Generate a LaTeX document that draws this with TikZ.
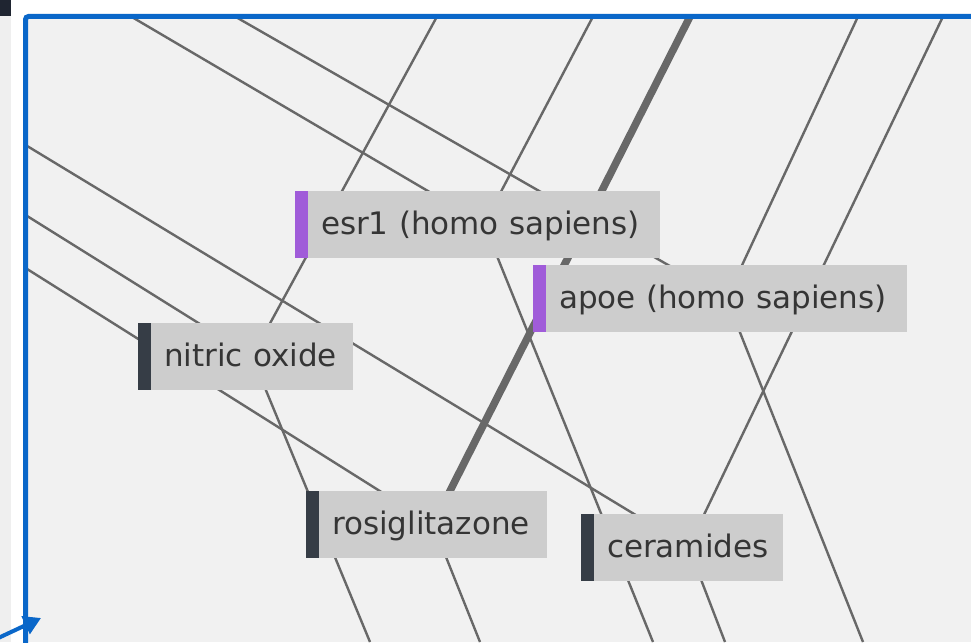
\documentclass[tikz,border=0pt]{standalone}
\usepackage{fontspec}
\setmainfont{DejaVu Sans}
\usetikzlibrary{arrows.meta,positioning,backgrounds}
\definecolor{netBlue}{HTML}{0A67C9}
\definecolor{netCanvas}{HTML}{F1F1F1}
\definecolor{netStrip}{HTML}{EFEFEF}
\definecolor{netDark}{HTML}{1F2531}
\definecolor{netBox}{HTML}{CDCDCD}
\definecolor{netText}{HTML}{353535}
\definecolor{netPurple}{HTML}{A05CD9}
\definecolor{netSlate}{HTML}{363D46}
\definecolor{netLine}{HTML}{686868}
\tikzset{
  termbox/.style={rectangle, fill=netBox, anchor=west, inner xsep=13pt, inner ysep=0pt, minimum height=67pt, text height=26pt, text depth=6pt, text width=#1, align=left, text=netText, font=\fontsize{31}{37}\selectfont},
  geneTag/.style={rectangle, fill=netPurple, minimum width=13pt, minimum height=67pt, inner sep=0pt},
  chemTag/.style={rectangle, fill=netSlate, minimum width=13pt, minimum height=67pt, inner sep=0pt},
  link/.style={draw=netLine, line width=2.4pt},
  heavylink/.style={draw=netLine, line width=7.5pt},
  viewframe/.style={draw=netBlue, line width=5pt, rounded corners=3pt},
  pointer/.style={draw=netBlue, line width=4pt, -{Triangle[length=17pt,width=19pt]}}
}

\begin{document}
\begin{tikzpicture}[x=1pt,y=-1pt,every node/.style={outer sep=0pt}]
\useasboundingbox (0,0) rectangle (971,642);

% page strip on the left
\fill[netStrip] (0,16) rectangle (11,642);
\fill[netDark] (0,0) rectangle (11,16);

% terms
\node[termbox=326pt] (esr) at (308,224) {esr1 (homo sapiens)};
\node[geneTag, left=0pt of esr] (esrTag) {};
\node[termbox=335pt] (apoe) at (546,298.5) {apoe (homo sapiens)};
\node[geneTag, left=0pt of apoe] (apoeTag) {};
\node[termbox=176pt] (nitric) at (151,356.5) {nitric oxide};
\node[chemTag, left=0pt of nitric] (nitricTag) {};
\node[termbox=202pt] (rosi) at (319,524.5) {rosiglitazone};
\node[chemTag, left=0pt of rosi] (rosiTag) {};
\node[termbox=163pt] (cer) at (594,547) {ceramides};
\node[chemTag, left=0pt of cer] (cerTag) {};

% loose ends of links that run out of view
\coordinate (tEsrA) at (131,16.5);
\coordinate (tApoeA) at (235,16.5);
\coordinate (tNitric) at (437,16.5);
\coordinate (tEsrB) at (593,16.5);
\coordinate (tRosi) at (690,16.5);
\coordinate (tApoeB) at (858,16.5);
\coordinate (tCer) at (943,16.5);
\coordinate (lCer) at (25.5,145);
\coordinate (lNitric) at (25.5,215);
\coordinate (lRosi) at (25.5,268);
\coordinate (bNitric) at (370,642);
\coordinate (bRosi) at (480,642);
\coordinate (bEsr) at (653,642);
\coordinate (bCer) at (725,642);
\coordinate (bApoe) at (863,642);

\begin{scope}[on background layer]
\fill[netCanvas] (28,19) rectangle (971,642);
\clip (28,19) rectangle (971,642);
\draw[link] (tEsrA) -- (esr.center);
\draw[link] (tEsrB) -- (esr.center);
\draw[link] (esr.center) -- (bEsr);
\draw[link] (tApoeA) -- (apoe.center);
\draw[link] (tApoeB) -- (apoe.center);
\draw[link] (apoe.center) -- (bApoe);
\draw[link] (tNitric) -- (nitric.center);
\draw[link] (lNitric) -- (nitric.center);
\draw[link] (nitric.center) -- (bNitric);
\draw[heavylink] (tRosi) -- (rosi.center);
\draw[link] (lRosi) -- (rosi.center);
\draw[link] (rosi.center) -- (bRosi);
\draw[link] (lCer) -- (cer.center);
\draw[link] (tCer) -- (cer.center);
\draw[link] (cer.center) -- (bCer);
\end{scope}

\draw[viewframe] (25.5,660) |- (990,16.5);

\coordinate (arrowTail) at (-6,640);
\coordinate (arrowTip) at (41,618);
\draw[pointer] (arrowTail) -- (arrowTip);

\end{tikzpicture}
\end{document}
